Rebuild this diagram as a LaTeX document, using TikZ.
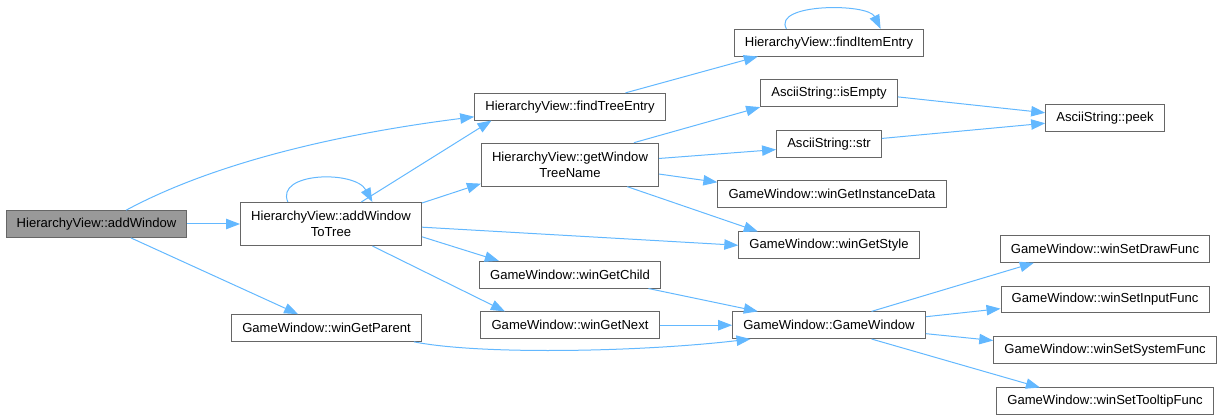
\documentclass[tikz,border=0pt]{standalone}
\usepackage{fontspec}
\setmainfont{Liberation Sans}
\usetikzlibrary{arrows.meta}
\definecolor{edgeblue}{HTML}{63B8FF}
\definecolor{boxgray}{HTML}{666666}
\definecolor{rootgray}{HTML}{999999}

\begin{document}
\begin{tikzpicture}[x=0.75pt, y=-0.75pt,
	fn/.style={draw=boxgray, line width=0.75pt, fill=white, inner xsep=8pt, inner ysep=0pt,
		minimum height=20pt, font=\fontsize{9.8pt}{11.7pt}\selectfont, align=center},
	rootfn/.style={fn, fill=rootgray},
	twoline/.style={minimum height=32.25pt},
	call/.style={draw=edgeblue, line width=0.75pt, -{Triangle[length=10.5pt, width=7.8pt]}}]
	\useasboundingbox (0, 0) rectangle (1223, 420);

	\node [rootfn] (root) at (96.5, 224) {HierarchyView::addWindow};
	\node [fn, twoline] (toTree) at (331, 224) {HierarchyView::addWindow\\ToTree};
	\node [fn] (parent) at (326.5, 328) {GameWindow::winGetParent};
	\node [fn] (findTree) at (570, 106.7) {HierarchyView::findTreeEntry};
	\node [fn, twoline] (getName) at (570, 164.7) {HierarchyView::getWindow\\TreeName};
	\node [fn] (child) at (570, 274.7) {GameWindow::winGetChild};
	\node [fn] (next) at (570, 325.2) {GameWindow::winGetNext};
	\node [fn] (findItem) at (829, 42.7) {HierarchyView::findItemEntry};
	\node [fn] (isEmpty) at (829, 93.3) {AsciiString::isEmpty};
	\node [fn] (str) at (829, 144) {AsciiString::str};
	\node [fn] (instData) at (832, 194.3) {GameWindow::winGetInstanceData};
	\node [fn] (style) at (829, 245.3) {GameWindow::winGetStyle};
	\node [fn] (gw) at (829, 325.2) {GameWindow::GameWindow};
	\node [fn] (peek) at (1105, 118) {AsciiString::peek};
	\node [fn] (drawFunc) at (1105, 249) {GameWindow::winSetDrawFunc};
	\node [fn] (inputFunc) at (1105, 299.5) {GameWindow::winSetInputFunc};
	\node [fn] (systemFunc) at (1105, 350.3) {GameWindow::winSetSystemFunc};
	\node [fn] (tooltipFunc) at (1105, 401.3) {GameWindow::winSetTooltipFunc};

	\draw [call] (root.25) .. controls (210, 165) and (330, 135) .. (findTree.186);
	\draw [call] (root) -- (toTree);
	\draw [call] (root.-22.9) -- (parent.154.8);
	\draw [call] (toTree.153.4) .. controls (275, 172) and (355, 170) .. (toTree.28.9);
	\draw [call] (toTree.36.6) -- (findTree.190.8);
	\draw [call] (toTree.13.6) -- (getName.192.7);
	\draw [call] (toTree.-2.5) -- (style.west);
	\draw [call] (toTree.-8.1) -- (child.169.5);
	\draw [call] (toTree.-28.9) -- (next.168.6);
	\draw [call] (findTree.14.9) -- (findItem.191.1);
	\draw [call] (findItem.162.5) .. controls (772, 3) and (868, 3) .. (findItem.15.6);
	\draw [call] (getName.19.5) -- (isEmpty.south west);
	\draw [call] (getName.4.9) -- (str.186.3);
	\draw [call] (getName.-6.5) -- (instData.174.2);
	\draw [call] (getName.-21.2) -- (style.169.8);
	\draw [call] (isEmpty.-3.8) -- (peek.175.5);
	\draw [call] (str.6.3) -- (peek.185);
	\draw [call] (child.-10.3) -- (gw.169.4);
	\draw [call] (next) -- (gw);
	\draw [call] (parent.-9.5) .. controls (480, 355) and (640, 352) .. (gw.190.1);
	\draw [call] (gw.18.2) -- (drawFunc.191.2);
	\draw [call] (gw.5.4) -- (inputFunc.185.7);
	\draw [call] (gw.-5.8) -- (systemFunc.175.8);
	\draw [call] (gw.-18.2) -- (tooltipFunc.168.9);
\end{tikzpicture}
\end{document}
